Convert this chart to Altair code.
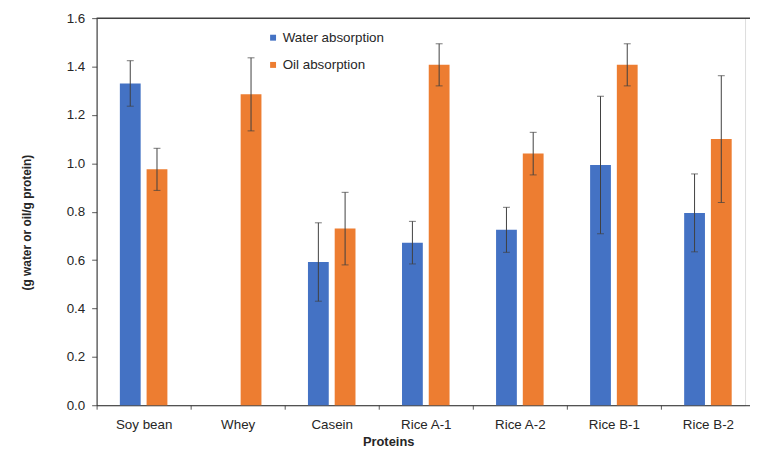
import altair as alt
import pandas as pd

proteins = ["Soy bean", "Whey", "Casein", "Rice A-1", "Rice A-2", "Rice B-1", "Rice B-2"]
series = ["Water absorption", "Oil absorption"]
colors = ["#4472C4", "#ED7D31"]

water = [1.330, None, 0.592, 0.672, 0.725, 0.993, 0.795]
water_err = [0.094, None, 0.162, 0.088, 0.093, 0.284, 0.161]
oil = [0.975, 1.285, 0.730, 1.407, 1.040, 1.407, 1.100]
oil_err = [0.087, 0.151, 0.150, 0.087, 0.088, 0.087, 0.262]

y_ticks = [0.0, 0.2, 0.4, 0.6, 0.8, 1.0, 1.2, 1.4, 1.6]

rows = []
for i, p in enumerate(proteins):
    for s, vals, errs in [(series[0], water, water_err), (series[1], oil, oil_err)]:
        if vals[i] is None:
            continue
        rows.append(dict(Protein=p, Series=s, value=vals[i],
                         lo=vals[i] - errs[i], hi=vals[i] + errs[i]))
df = pd.DataFrame(rows)

FONT = "Liberation Sans"

x_enc = alt.X(
    "Protein:N",
    sort=proteins,
    scale=alt.Scale(domain=proteins, range=[0, 665], paddingInner=0, paddingOuter=0),
    axis=alt.Axis(
        title="Proteins",
        labelAngle=0,
        tickBand="extent",
        tickSize=4,
        labelPadding=9,
        labelFontSize=13.5,
        titleFontSize=13,
        titleFontWeight="bold",
        titlePadding=4,
        titleX=294.5,
        domainColor="#262626",
        tickColor="#595959",
        labelColor="#262626",
        titleColor="#262626",
    ),
)
xoff_enc = alt.XOffset(
    "Series:N", sort=series,
    scale=alt.Scale(domain=series, paddingInner=0.222, paddingOuter=0.87),
)
y_scale = alt.Scale(domain=[0, 1.6], nice=False, zero=True)
y_axis = alt.Axis(
    title="(g water or oil/g protein)",
    values=y_ticks,
    format=".1f",
    grid=False,
    tickSize=5,
    labelPadding=7,
    labelFontSize=13.5,
    titleFontSize=12,
    titleFontWeight="bold",
    titleX=-71,
    titleY=206,
    titleBaseline="middle",
    titleAlign="center",
    domainColor="#262626",
    tickColor="#595959",
    labelColor="#262626",
    titleColor="#262626",
)

base = alt.Chart(df)

bars = base.mark_bar().encode(
    x=x_enc,
    xOffset=xoff_enc,
    y=alt.Y("value:Q", scale=y_scale, axis=y_axis),
    color=alt.Color(
        "Series:N",
        sort=series,
        scale=alt.Scale(domain=series, range=colors),
        legend=alt.Legend(
            title=None,
            orient="none",
            legendX=171.5,
            legendY=13,
            symbolType="square",
            symbolSize=36,
            symbolStrokeWidth=0,
            labelFontSize=13.5,
            labelColor="#262626",
            labelOffset=3,
            rowPadding=12.5,
            padding=0,
        ),
    ),
)

err_rule = base.mark_rule(color="#404040", strokeWidth=1).encode(
    x=alt.X("Protein:N", sort=proteins),
    xOffset=alt.XOffset("Series:N", sort=series),
    y=alt.Y("lo:Q"),
    y2="hi:Q",
)
cap_hi = base.mark_tick(color="#404040", thickness=1, size=7).encode(
    x=alt.X("Protein:N", sort=proteins),
    xOffset=alt.XOffset("Series:N", sort=series),
    y=alt.Y("hi:Q"),
)
cap_lo = base.mark_tick(color="#404040", thickness=1, size=7).encode(
    x=alt.X("Protein:N", sort=proteins),
    xOffset=alt.XOffset("Series:N", sort=series),
    y=alt.Y("lo:Q"),
)

top_border = alt.Chart(pd.DataFrame({"v": [1.6]})).mark_rule(
    color="#404040", strokeWidth=1.5
).encode(
    y=alt.Y("v:Q"),
    x=alt.value(0),
    x2=alt.value(665),
)

chart = alt.layer(bars, err_rule, cap_hi, cap_lo, top_border).properties(
    width=655,
    height=391,
    autosize=alt.AutoSizeParams(type="none"),
    padding={"left": 89.5, "top": 8, "right": 5, "bottom": 44},
).configure_view(stroke=None).configure(font=FONT)

chart.save("out.html", embed_options={"renderer": "svg", "actions": False})
